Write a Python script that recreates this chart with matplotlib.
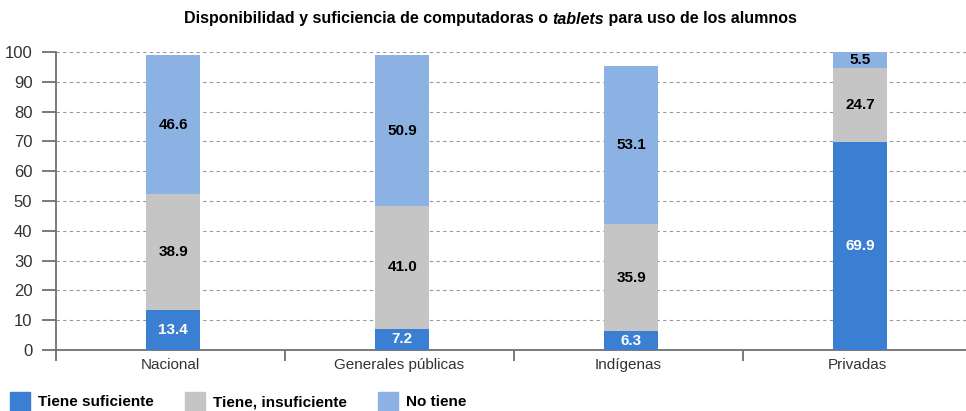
import matplotlib
matplotlib.use("Agg")
import matplotlib.pyplot as plt
from matplotlib.patches import Rectangle
import numpy as np

categories = ["Nacional", "Generales públicas", "Indígenas", "Privadas"]
series_names = ["Tiene suficiente", "Tiene, insuficiente", "No tiene"]
suficiente = [13.4, 7.2, 6.3, 69.9]
insuficiente = [38.9, 41.0, 35.9, 24.7]
no_tiene = [46.6, 50.9, 53.1, 5.5]
yticks = list(range(0, 101, 10))

colors = ["#3b7fd3", "#c5c5c5", "#8bb2e3"]
label_colors = ["white", "black", "black"]

plt.rcParams["font.family"] = ["Liberation Sans", "DejaVu Sans"]

W, H = 966, 411
fig = plt.figure(figsize=(W / 100, H / 100), dpi=100)
ax = fig.add_axes([56 / W, 61 / H, 916 / W, 298 / H])

x = np.arange(len(categories))
width = 0.235
bottom = np.zeros(len(categories))
for vals, col, lc in zip([suficiente, insuficiente, no_tiene], colors, label_colors):
    vals = np.array(vals)
    ax.bar(x + 0.012, vals, width=width, bottom=bottom, color=col, zorder=3, clip_on=False)
    for xi, b, v in zip(x + 0.012, bottom, vals):
        ax.text(xi, b + v / 2, f"{v:.1f}", ha="center", va="center",
                color=lc, fontsize=11, fontweight="bold", zorder=4)
    bottom = bottom + vals

ax.set_xlim(-0.5, len(categories) - 0.5)
ax.set_ylim(0, 100)
ax.set_yticks(yticks)
ax.set_yticklabels([str(t) for t in yticks])
ax.set_xticks(x)
ax.set_xticklabels(categories)
ax.set_xticks(np.arange(-0.5, len(categories) + 0.5, 1.0), minor=True)

ax.tick_params(axis="x", which="major", length=0, pad=6, labelsize=11, labelcolor="#333333")
ax.tick_params(axis="x", which="minor", length=8, width=1.3, color="#707070", direction="out")
ax.tick_params(axis="y", length=10, width=1.3, color="#707070", pad=7,
               labelsize=12, labelcolor="#333333")

for s in ["top", "right"]:
    ax.spines[s].set_visible(False)
for s in ["left", "bottom"]:
    ax.spines[s].set_color("#707070")
    ax.spines[s].set_linewidth(1.3)

for t in yticks[1:]:
    ax.axhline(t, color="#999999", linewidth=0.8, linestyle=(0, (3, 3)), zorder=1)

# title with an italic word
fig.canvas.draw()
renderer = fig.canvas.get_renderer()
parts = [("Disponibilidad y suficiencia de computadoras o ", "normal"),
         ("tablets", "italic"),
         (" para uso de los alumnos", "normal")]
texts = []
for s, style in parts:
    t = fig.text(0, 1 - 19 / H, s, fontsize=11.5, fontweight="bold", style=style,
                 va="center", ha="left")
    texts.append(t)
widths = [t.get_window_extent(renderer).width for t in texts]
start = 490 - sum(widths) / 2
for t, w in zip(texts, widths):
    t.set_x(start / W)
    start += w

# legend row
legend_x = [10, 185, 378]
for lx, name, col in zip(legend_x, series_names, colors):
    fig.patches.append(Rectangle((lx / W, 0), 20 / W, 19 / H,
                                 transform=fig.transFigure, color=col))
    fig.text((lx + 28) / W, 9 / H, name, fontsize=11, fontweight="bold",
             va="center", ha="left")

fig.savefig("out.png", dpi=100)
